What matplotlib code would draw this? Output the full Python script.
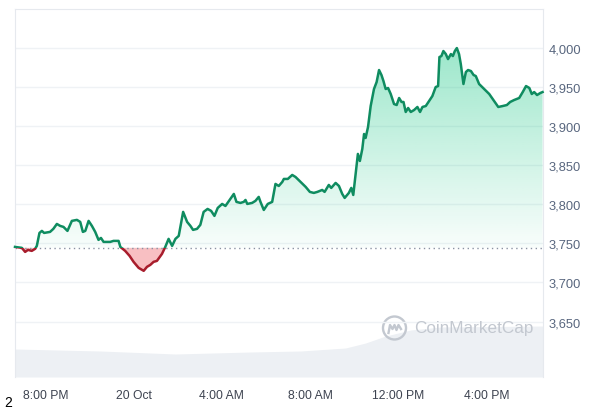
import numpy as np
import matplotlib.pyplot as plt
import matplotlib.colors as mc
from matplotlib.path import Path
from matplotlib.patches import Rectangle, Ellipse
from matplotlib.lines import Line2D
from matplotlib.ticker import FuncFormatter

plt.rcParams['font.family'] = ['Liberation Sans', 'DejaVu Sans']

# gio tinh tu 8:00 PM (0 = 8:00 PM)
hours = [-1.39, -1.08, -0.93, -0.80, -0.63, -0.48, -0.40, -0.28, -0.17, -0.07,
         0.20, 0.35, 0.51, 0.66, 0.81, 0.99, 1.19, 1.42, 1.57, 1.69,
         1.80, 1.95, 2.10, 2.25, 2.40, 2.51, 2.63, 2.78, 2.93, 3.08,
         3.31, 3.39, 3.61, 3.81, 3.99, 4.22, 4.45, 4.60, 4.75, 4.90,
         5.05, 5.28, 5.43, 5.58, 5.74, 5.89, 6.04, 6.24, 6.42, 6.57,
         6.69, 6.87, 7.02, 7.17, 7.35, 7.51, 7.66, 7.81, 8.01, 8.16,
         8.35, 8.54, 8.66, 8.84, 8.99, 9.07, 9.15, 9.37, 9.52, 9.67,
         9.75, 9.90, 10.08, 10.28, 10.43, 10.58, 10.74, 10.81, 10.99, 11.19,
         11.34, 11.57, 11.80, 11.99, 12.17, 12.33, 12.55, 12.66, 12.85, 12.96,
         13.16, 13.31, 13.46, 13.57, 13.76, 13.87, 13.96, 14.07, 14.17, 14.26,
         14.37, 14.45, 14.52, 14.63, 14.75, 14.90, 15.02, 15.13, 15.24, 15.33,
         15.43, 15.54, 15.66, 15.81, 15.93, 16.04, 16.15, 16.24, 16.34, 16.45,
         16.57, 16.72, 16.87, 16.99, 17.10, 17.25, 17.40, 17.55, 17.70, 17.81,
         17.87, 17.96, 18.05, 18.16, 18.26, 18.39, 18.48, 18.57, 18.66, 18.76,
         18.84, 18.96, 19.07, 19.17, 19.30, 19.42, 19.52, 19.67, 19.90, 20.13,
         20.35, 20.54, 20.74, 20.93, 21.08, 21.26, 21.49, 21.65, 21.80, 21.95,
         22.06, 22.17, 22.30, 22.45, 22.55]
price = [3745.5, 3744.3, 3739.1, 3741.7, 3740.4, 3743.0, 3746.8, 3763.4, 3766.0, 3763.4,
         3764.7, 3768.6, 3774.9, 3772.4, 3771.1, 3766.0, 3778.8, 3780.1, 3777.5, 3764.7,
         3766.0, 3778.8, 3772.4, 3764.7, 3754.5, 3757.0, 3751.9, 3751.9, 3751.9, 3753.2,
         3753.2, 3745.5, 3740.4, 3734.0, 3726.4, 3718.7, 3714.9, 3720.0, 3722.5, 3726.4,
         3727.6, 3736.6, 3745.5, 3755.8, 3746.8, 3755.8, 3759.6, 3790.3, 3777.5, 3772.4,
         3767.3, 3768.6, 3773.7, 3790.3, 3794.1, 3791.6, 3785.2, 3795.4, 3800.5, 3797.9,
         3805.6, 3813.3, 3803.1, 3801.8, 3803.1, 3805.6, 3800.5, 3801.8, 3804.4, 3809.5,
         3803.1, 3792.8, 3800.5, 3803.1, 3826.1, 3823.5, 3828.7, 3832.5, 3832.5, 3837.6,
         3835.0, 3828.7, 3822.3, 3815.9, 3814.6, 3815.9, 3818.4, 3815.9, 3824.8, 3821.0,
         3827.4, 3823.5, 3813.3, 3808.2, 3814.6, 3821.0, 3812.0, 3838.9, 3864.5, 3855.5,
         3870.9, 3890.0, 3884.9, 3899.0, 3925.8, 3947.6, 3956.5, 3971.9, 3965.5, 3957.8,
         3947.6, 3948.9, 3941.2, 3928.4, 3927.1, 3936.1, 3931.0, 3931.0, 3918.2, 3923.3,
         3918.2, 3920.7, 3924.6, 3918.2, 3924.6, 3925.8, 3932.2, 3938.6, 3950.1, 3951.4,
         3988.5, 3989.8, 3996.2, 3992.3, 3985.9, 3992.3, 3989.8, 3996.2, 4000.0, 3992.3,
         3979.5, 3954.0, 3969.3, 3971.9, 3970.6, 3965.5, 3964.2, 3954.0, 3947.6, 3941.2,
         3932.2, 3924.6, 3925.8, 3927.1, 3931.0, 3933.5, 3936.1, 3943.7, 3951.4, 3948.9,
         3941.2, 3943.7, 3939.9, 3942.5, 3943.7]
base_price = 3744.3

vol_hours = [-1.39, 2.48, 5.89, 9.30, 11.57, 13.61, 14.52, 15.43, 16.57, 17.93, 22.57]
volume = [28, 26, 23, 25, 26, 29, 34, 41, 47, 50, 51]

tick_hours = [0, 4, 8, 12, 16, 20]
tick_labels = ["8:00 PM", "20 Oct", "4:00 AM", "8:00 AM", "12:00 PM", "4:00 PM"]
y_ticks = [3650, 3700, 3750, 3800, 3850, 3900, 3950, 4000]

t = np.array(hours)
p = np.array(price)

fig = plt.figure(figsize=(6, 4.1), dpi=100)
ax = fig.add_axes([15 / 600, 1 - 378 / 410, 528 / 600, 368 / 410])
ax2 = ax.twinx()
ax.set_zorder(2)
ax.patch.set_visible(False)

# volume o duoi
ax2.fill_between(vol_hours, volume, 0, color='#edf0f4', lw=0)
ax2.set_ylim(0, 368)
ax2.axis('off')

# vung xanh voi gradient
up = ax.fill_between(t, p, base_price, where=p >= base_price, interpolate=True, color='none', lw=0)
path = Path.make_compound_path(*up.get_paths())
grad = np.zeros((100, 1, 4))
grad[:, 0, :3] = mc.to_rgb('#16c784')
grad[:, 0, 3] = np.linspace(0.03, 0.42, 100)
im = ax.imshow(grad, extent=[t[0], t[-1], base_price, 4000], origin='lower', aspect='auto', zorder=1)
im.set_clip_path(path, ax.transData)

ax.fill_between(t, p, base_price, where=p < base_price, interpolate=True, color='#ea3943', alpha=0.32, lw=0)

l1, = ax.plot(t, p, color='#0f8c60', lw=1.8, zorder=3)
l1.set_clip_path(Rectangle((t[0] - 2, base_price), 30, 500, transform=ax.transData))
l2, = ax.plot(t, p, color='#a81d2c', lw=1.8, zorder=3)
l2.set_clip_path(Rectangle((t[0] - 2, base_price - 500), 30, 500, transform=ax.transData))

ax.axhline(base_price, color='#8a93a3', ls=(0, (1, 2.5)), lw=1, zorder=2)

ax.set_xlim(-1.39, 22.57)
ax.set_ylim(3579, 4050)
ax.yaxis.tick_right()
ax.set_yticks(y_ticks)
ax.yaxis.set_major_formatter(FuncFormatter(lambda v, pos: f"{v:,.0f}"))
ax.set_xticks(tick_hours, tick_labels)
ax.tick_params(axis='y', length=0, pad=4, labelsize=9.3, labelcolor='#58667e')
ax.tick_params(axis='x', length=0, pad=9, labelsize=8.7, labelcolor='#3d4350')
ax.grid(axis='y', color='#eff2f5', lw=1)
ax.set_axisbelow(True)
for s in ['left', 'right', 'top']:
    ax.spines[s].set_color('#e6e9ee')
ax.spines['bottom'].set_visible(False)

# logo CoinMarketCap
cx, cy = 394.5 / 600, 1 - 329 / 410
fig.add_artist(Ellipse((cx, cy), 23 / 600, 23 / 410, transform=fig.transFigure,
                       fill=False, ec='#c3c8d0', lw=1.7))
mx = [-6, -4.5, -2, 0, 2, 4, 6.5]
my = [-5, 3, -1, 3, -2, 3, -1]
fig.add_artist(Line2D([cx + a / 600 for a in mx], [cy + b / 410 for b in my],
                      transform=fig.transFigure, color='#c3c8d0', lw=1.7))
fig.text(414 / 600, cy, 'CoinMarketCap', fontsize=12.3, color='#c3c8d0', va='center', ha='left')

fig.text(4 / 600, 0, '2', fontsize=10, color='black', va='bottom')

plt.savefig('out.png', dpi=100)
